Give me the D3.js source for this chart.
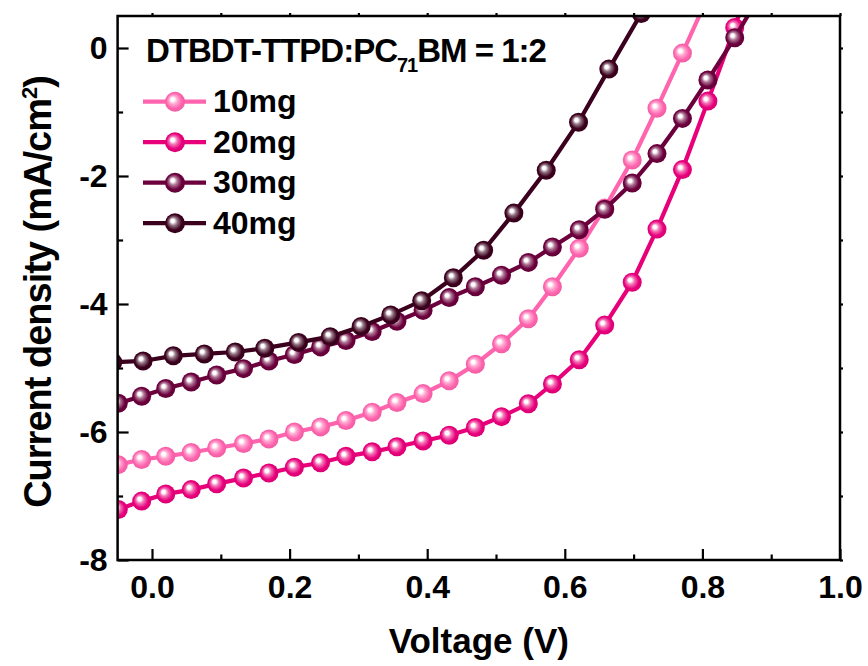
<!DOCTYPE html>
<html>
<head>
<meta charset="utf-8">
<script src="https://cdn.jsdelivr.net/npm/d3@7"></script>
<style>
body { margin: 0; background: #fff; }
text { font-family: "Liberation Sans", Arial, sans-serif; font-weight: bold; fill: #000; }
</style>
</head>
<body>
<div id="canvas"></div>
<script>

// voltage grid shared by 10, 20 and 30 mg curves
var voltage = [-0.049,-0.015,0.020,0.057,0.094,0.133,0.170,0.207,0.245,0.282,0.320,0.356,0.394,
  0.432,0.470,0.508,0.547,0.582,0.621,0.658,0.698,0.734,0.771,0.808,0.847,0.884]

var j10 = [-6.51,-6.43,-6.38,-6.32,-6.25,-6.18,-6.11,-6.00,-5.92,-5.82,-5.69,-5.54,-5.40,
  -5.20,-4.94,-4.62,-4.23,-3.73,-3.13,-2.50,-1.75,-0.94,-0.08,0.80]
var j20 = [-7.21,-7.08,-6.97,-6.90,-6.81,-6.72,-6.64,-6.55,-6.48,-6.38,-6.31,-6.23,-6.14,
  -6.05,-5.93,-5.76,-5.56,-5.25,-4.87,-4.33,-3.66,-2.83,-1.90,-0.83,0.32,1.53]
var j30 = [-5.55,-5.44,-5.32,-5.22,-5.11,-5.01,-4.89,-4.79,-4.67,-4.57,-4.43,-4.27,-4.10,
  -3.90,-3.73,-3.55,-3.35,-3.11,-2.84,-2.52,-2.11,-1.65,-1.10,-0.50,0.16,0.83]

// 40 mg was measured on its own grid
var voltage40 = [-0.057,-0.013,0.031,0.076,0.121,0.164,0.213,0.259,0.304,0.347,0.392,0.438,
  0.482,0.526,0.573,0.620,0.664,0.711,0.756]
var j40 = [-4.91,-4.89,-4.81,-4.78,-4.75,-4.69,-4.60,-4.51,-4.35,-4.17,-3.95,-3.59,
  -3.16,-2.58,-1.91,-1.16,-0.33,0.54,1.45]

var names = ['10mg','20mg','30mg','40mg']
var colors = ['#ff64ae','#e8007b','#6b003c','#3b001d']

var xTicks = [0, 0.2, 0.4, 0.6, 0.8, 1.0]
var xMinor = [0.1, 0.3, 0.5, 0.7, 0.9]
var yTicks = [0, -2, -4, -6, -8]
var yMinor = [-1, -3, -5, -7]

//    frame
var W = 868, H = 666
var pLeft = 117.6, pRight = 840, pTop = 16, pBottom = 560

var Svg = d3.select('#canvas')
  .append('svg')
  .attr('width', W)
  .attr('height', H)

var xScale = d3.scaleLinear().domain([-0.05, 1.0]).range([pLeft, pRight])
var yScale = d3.scaleLinear().domain([-8, 0.5]).range([pBottom, pTop])

var defs = Svg.append('defs')
defs.append('clipPath').attr('id', 'plotclip')
  .append('rect')
  .attr('x', pLeft).attr('y', pTop)
  .attr('width', pRight - pLeft).attr('height', pBottom - pTop)

colors.forEach(function (c, i) {
  var g = defs.append('radialGradient')
    .attr('id', 'ball' + i)
    .attr('cx', 0.5).attr('cy', 0.5).attr('r', 0.55)
    .attr('fx', 0.36).attr('fy', 0.36)
  g.append('stop').attr('offset', '0%').attr('stop-color', '#ffffff')
  g.append('stop').attr('offset', '16%').attr('stop-color', '#ffffff')
  g.append('stop').attr('offset', '38%').attr('stop-color', d3.interpolateRgb(c, '#fff')(0.45))
  g.append('stop').attr('offset', '70%').attr('stop-color', c)
  g.append('stop').attr('offset', '100%').attr('stop-color', d3.color(c).darker(0.25))
})

var series = [
  { pts: d3.zip(voltage, j10) },
  { pts: d3.zip(voltage, j20) },
  { pts: d3.zip(voltage, j30) },
  { pts: d3.zip(voltage40, j40) }
]

var line = d3.line()
  .x(function (d) { return xScale(d[0]) })
  .y(function (d) { return yScale(d[1]) })

var plot = Svg.append('g').attr('clip-path', 'url(#plotclip)')

series.forEach(function (s, i) {
  var g = plot.append('g')
  g.append('path')
    .attr('d', line(s.pts))
    .attr('fill', 'none')
    .attr('stroke', colors[i])
    .attr('stroke-width', 4.2)
  g.selectAll('circle')
    .data(s.pts)
    .enter()
    .append('circle')
    .attr('cx', function (d) { return xScale(d[0]) })
    .attr('cy', function (d) { return yScale(d[1]) })
    .attr('r', 9.5)
    .attr('fill', 'url(#ball' + i + ')')
})

//    axes
var fmtX = d3.format('.1f')

function styleAxis(g) {
  g.select('.domain').remove()
  g.selectAll('line').attr('stroke', '#000').attr('stroke-width', 2.2)
  g.selectAll('text').style('font-size', '32px')
}

Svg.append('g')
  .attr('transform', 'translate(0,' + pBottom + ')')
  .call(d3.axisBottom(xScale).tickValues(xTicks).tickFormat(fmtX).tickSize(-11).tickPadding(15))
  .call(styleAxis)
Svg.append('g')
  .attr('transform', 'translate(0,' + pBottom + ')')
  .call(d3.axisBottom(xScale).tickValues(xMinor).tickFormat('').tickSize(-5.5))
  .call(styleAxis)
Svg.append('g')
  .attr('transform', 'translate(' + pLeft + ',0)')
  .call(d3.axisLeft(yScale).tickValues(yTicks).tickFormat(function (d) { return String(d) }).tickSize(-11).tickPadding(10))
  .call(styleAxis)
Svg.append('g')
  .attr('transform', 'translate(' + pLeft + ',0)')
  .call(d3.axisLeft(yScale).tickValues(yMinor).tickFormat('').tickSize(-5.5))
  .call(styleAxis)
Svg.append('g')
  .attr('transform', 'translate(0,' + pTop + ')')
  .call(d3.axisTop(xScale).tickValues(xTicks.concat(xMinor)).tickFormat('').tickSize(3))
  .call(styleAxis)
Svg.append('g')
  .attr('transform', 'translate(' + pRight + ',0)')
  .call(d3.axisRight(yScale).tickValues(yTicks.concat(yMinor)).tickFormat('').tickSize(3))
  .call(styleAxis)

Svg.append('rect')
  .attr('x', pLeft).attr('y', pTop)
  .attr('width', pRight - pLeft).attr('height', pBottom - pTop)
  .attr('fill', 'none')
  .attr('stroke', '#000')
  .attr('stroke-width', 2.5)

//    axis titles
Svg.append('text')
  .attr('text-anchor', 'middle')
  .attr('x', (pLeft + pRight) / 2)
  .attr('y', 653)
  .style('font-size', '35px')
  .text('Voltage (V)')

var yt = Svg.append('text')
  .attr('text-anchor', 'middle')
  .attr('transform', 'translate(51,292) rotate(-90)')
  .style('font-size', '38px')
  .style('letter-spacing', '-1px')
yt.append('tspan').text('Current density (mA/cm')
yt.append('tspan').attr('dy', -14).style('font-size', '22px').text('2')
yt.append('tspan').attr('dy', 14).text(')')

//    legend
var title = Svg.append('text')
  .attr('x', 146)
  .attr('y', 62)
  .style('font-size', '33px')
  .style('letter-spacing', '-1px')
title.append('tspan').text('DTBDT-TTPD:PC')
title.append('tspan').attr('dy', 10).style('font-size', '20px').text('71')
title.append('tspan').attr('dy', -10).text('BM = 1:2')

var leg = Svg.append('g')
names.forEach(function (n, i) {
  var ly = 101.7 + i * 40.5
  leg.append('line')
    .attr('x1', 143).attr('x2', 206)
    .attr('y1', ly).attr('y2', ly)
    .attr('stroke', colors[i])
    .attr('stroke-width', 4.2)
  leg.append('circle')
    .attr('cx', 175).attr('cy', ly).attr('r', 10)
    .attr('fill', 'url(#ball' + i + ')')
  leg.append('text')
    .attr('x', 213)
    .attr('y', ly + 10.5)
    .style('font-size', '32px')
    .text(n)
})

</script>
</body>
</html>
